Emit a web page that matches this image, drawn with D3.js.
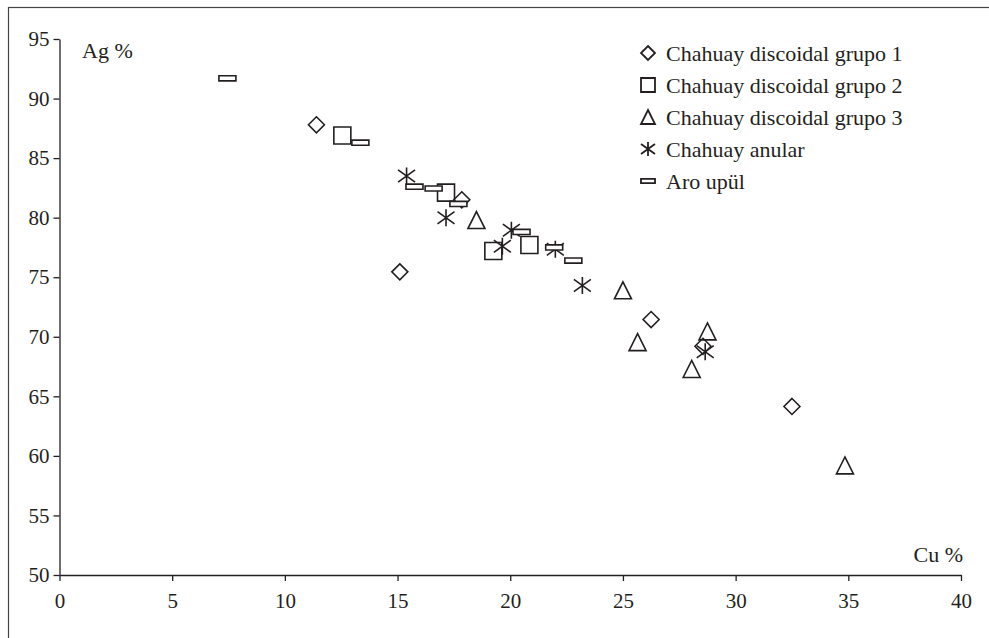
<!DOCTYPE html>
<html>
<head>
<meta charset="utf-8">
<title>Ag - Cu</title>
<style>
  body { margin: 0; padding: 0; background: white; }
  svg { display: block; }
</style>
</head>
<body>
<svg id="chart" width="989" height="638"></svg>
<script src="https://cdnjs.cloudflare.com/ajax/libs/d3/7.8.5/d3.min.js"></script>
<script>
// values (Cu %, Ag %)
var grupo1 = [[11.4, 87.8], [17.85, 81.5], [15.1, 75.45], [26.25, 71.45], [28.55, 69.2], [32.5, 64.15]];
var grupo2 = [[12.55, 86.9], [17.15, 82.1], [19.25, 77.2], [20.85, 77.7]];
var grupo3 = [[18.5, 79.8], [25.0, 73.9], [25.65, 69.55], [28.75, 70.45], [28.05, 67.3], [34.85, 59.2]];
var anular = [[15.4, 83.5], [17.15, 80.0], [20.05, 78.95], [19.65, 77.6], [22.0, 77.35], [23.2, 74.3], [28.65, 68.75]];
var aroUpul = [[7.45, 91.7], [13.35, 86.3], [15.75, 82.6], [16.6, 82.45], [17.7, 81.15], [20.5, 78.8], [21.95, 77.5], [22.8, 76.4]];

var seriesNames = ["Chahuay discoidal grupo 1", "Chahuay discoidal grupo 2", "Chahuay discoidal grupo 3", "Chahuay anular", "Aro upül"];
var xTicks = [0, 5, 10, 15, 20, 25, 30, 35, 40];
var yTicks = [50, 55, 60, 65, 70, 75, 80, 85, 90, 95];

var ink = "#231f20";
var serif = "'Liberation Serif', 'Times New Roman', Tinos, serif";
var svg = d3.select("#chart");

// outer frame (only top and left edges show)
svg.append("rect")
  .attr("x", 8.5).attr("y", 7.5)
  .attr("width", 1000).attr("height", 700)
  .attr("fill", "none")
  .attr("stroke", "#444")
  .attr("stroke-width", 1.2);

var x = d3.scaleLinear().domain([0, 40]).range([59.5, 961]);
var y = d3.scaleLinear().domain([50, 95]).range([575, 39]);

var xAxis = svg.append("g")
  .attr("transform", "translate(0," + y(50) + ")")
  .call(d3.axisBottom(x).tickValues(xTicks).tickSize(6).tickSizeOuter(0).tickPadding(7));
var yAxis = svg.append("g")
  .attr("transform", "translate(" + x(0) + ",0)")
  .call(d3.axisLeft(y).tickValues(yTicks).tickSize(6).tickSizeOuter(0).tickPadding(4));

[xAxis, yAxis].forEach(function(a) {
  a.attr("font-family", serif).attr("font-size", 21);
  a.select(".domain").attr("stroke", ink).attr("stroke-width", 1.3);
  a.selectAll(".tick line").attr("stroke", ink).attr("stroke-width", 1.3);
  a.selectAll(".tick text").attr("fill", ink);
});
xAxis.selectAll(".tick text").attr("dy", "0.95em");

svg.append("text").attr("x", 82).attr("y", 58)
  .attr("font-family", serif).attr("font-size", 22).attr("fill", ink).text("Ag %");
svg.append("text").attr("x", 963).attr("y", 562)
  .attr("font-family", serif).attr("font-size", 22).attr("fill", ink)
  .attr("text-anchor", "end").text("Cu %");

// marker shapes, s = full size in px
function diamond(s) { var h = s / 2; return "M0," + (-h) + "L" + h + ",0L0," + h + "L" + (-h) + ",0Z"; }
function square(s) { var h = s / 2; return "M" + (-h) + "," + (-h) + "H" + h + "V" + h + "H" + (-h) + "Z"; }
function triangle(s) { var h = s / 2; return "M0," + (-h) + "L" + h + "," + h + "L" + (-h) + "," + h + "Z"; }
function star(s) {
  var h = s / 2, d = s * 0.36;
  return "M0," + (-h) + "V" + h + "M" + (-h) + "," + (-d) + "L" + h + "," + d + "M" + (-h) + "," + d + "L" + h + "," + (-d);
}
function dash(s) { var w = s / 2, t = s * 0.15; return "M" + (-w) + "," + (-t) + "H" + w + "V" + t + "H" + (-w) + "Z"; }

var shapes = [diamond, square, triangle, star, dash];
var allSeries = [grupo1, grupo2, grupo3, anular, aroUpul];
var fills = ["none", "none", "none", "none", "white"];

allSeries.forEach(function(data, i) {
  svg.append("g").selectAll("path")
    .data(data)
    .enter().append("path")
    .attr("transform", function(d) { return "translate(" + x(d[0]) + "," + y(d[1]) + ")"; })
    .attr("d", shapes[i](i === 0 ? 16 : 17))
    .attr("fill", fills[i])
    .attr("stroke", ink)
    .attr("stroke-width", 1.6);
});

// legend
var legend = svg.append("g").attr("transform", "translate(648,53)");
seriesNames.forEach(function(name, i) {
  var row = legend.append("g").attr("transform", "translate(0," + (i * 32) + ")");
  row.append("path")
    .attr("d", shapes[i](14))
    .attr("fill", fills[i])
    .attr("stroke", ink)
    .attr("stroke-width", 1.8);
  row.append("text").attr("x", 18).attr("y", 8)
    .attr("font-family", serif).attr("font-size", 22).attr("fill", ink).text(name);
});
</script>
</body>
</html>
